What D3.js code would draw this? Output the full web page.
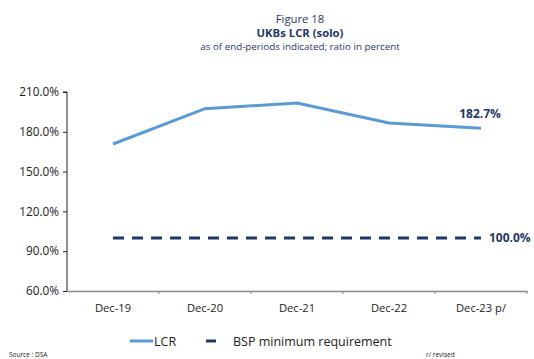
<!DOCTYPE html>
<html><head><meta charset="utf-8">
<script src="https://cdn.jsdelivr.net/npm/d3@7"></script>
<style>body{margin:0;background:#fff;}svg{display:block;font-family:"Open Sans",sans-serif;}</style>
</head><body>
<svg id="c" width="534" height="359"></svg>
<script>
const categories = ["Dec-19","Dec-20","Dec-21","Dec-22","Dec-23 p/"];
const lcr = [170.8, 197.4, 201.7, 186.6, 182.7];
const bsp = [100, 100, 100, 100, 100];
const yTicks = [60, 90, 120, 150, 180, 210];

const svg = d3.select("#c");
const navy = "#1f3864", blue = "#5b9bd5";
const m = {l:67, r:527, t:92, b:291};

const x = d3.scaleBand().domain(categories).range([m.l, m.r]);
const y = d3.scaleLinear().domain([60,210]).range([m.b, m.t]);

// titles
svg.append("text").attr("x",300).attr("y",22.5).attr("text-anchor","middle")
  .attr("fill",navy).attr("font-size",11.3).text("Figure 18");
svg.append("text").attr("x",300).attr("y",37).attr("text-anchor","middle")
  .attr("fill",navy).attr("font-size",11.3).attr("font-weight","bold").text("UKBs LCR (solo)");
svg.append("text").attr("x",300).attr("y",50).attr("text-anchor","middle")
  .attr("fill",navy).attr("font-size",9.8).text("as of end-periods indicated; ratio in percent");

// y axis
const ya = svg.append("g").attr("transform",`translate(${m.l},0)`)
  .call(d3.axisLeft(y).tickValues(yTicks).tickFormat(d=>d3.format(".1f")(d)+"%").tickSize(4).tickPadding(4));
ya.select(".domain").attr("stroke","#222").attr("d",`M-4,${m.t}H0V${m.b}`);
ya.selectAll(".tick line").attr("stroke","#222");
ya.selectAll(".tick text").attr("fill","#222").attr("font-size",11.8).attr("font-family","'Open Sans',sans-serif");

// x axis
const xa = svg.append("g").attr("transform",`translate(0,${m.b})`)
  .call(d3.axisBottom(x).tickSize(0).tickPadding(13));
xa.select(".domain").attr("stroke","#888").attr("stroke-width",1.5);
xa.selectAll(".tick text").attr("fill","#222").attr("font-size",11.2).attr("font-family","'Open Sans',sans-serif");
const bounds = categories.map(c=>x(c)+x.bandwidth());
xa.selectAll(".sep").data(bounds).enter().append("line")
  .attr("x1",d=>d).attr("x2",d=>d).attr("y1",0).attr("y2",3).attr("stroke","#888");

const cx = c=>x(c)+x.bandwidth()/2;
// BSP dashed
svg.append("path").datum(bsp)
  .attr("d", d3.line().x((d,i)=>cx(categories[i])).y(d=>y(d)))
  .attr("fill","none").attr("stroke",navy).attr("stroke-width",3).attr("stroke-dasharray","11,8");
// LCR
svg.append("path").datum(lcr)
  .attr("d", d3.line().x((d,i)=>cx(categories[i])).y(d=>y(d)))
  .attr("fill","none").attr("stroke",blue).attr("stroke-width",3);

// labels
const last = categories.length-1;
svg.append("text").attr("x",cx(categories[last])-1).attr("y",y(lcr[last])-10).attr("text-anchor","middle")
  .attr("fill",navy).attr("font-size",12).attr("font-weight","bold").text(d3.format(".1f")(lcr[last])+"%");
svg.append("text").attr("x",cx(categories[last])+8).attr("y",y(bsp[last])+4)
  .attr("fill",navy).attr("font-size",12).attr("font-weight","bold").text(d3.format(".1f")(bsp[last])+"%");

// legend
svg.append("line").attr("x1",130).attr("x2",153).attr("y1",341).attr("y2",341).attr("stroke",blue).attr("stroke-width",3);
svg.append("text").attr("x",154).attr("y",345.5).attr("fill","#222").attr("font-size",12.5).text("LCR");
svg.append("line").attr("x1",206).attr("x2",216).attr("y1",341).attr("y2",341).attr("stroke",navy).attr("stroke-width",3);
svg.append("text").attr("x",233).attr("y",345.5).attr("fill","#222").attr("font-size",12.5).text("BSP minimum requirement");

// footnotes
svg.append("text").attr("x",9).attr("y",357).attr("fill","#222").attr("font-size",6.5).text("Source : DSA");
svg.append("text").attr("x",426).attr("y",357).attr("fill","#222").attr("font-size",6.5).text("r/ revised");
</script>
</body></html>
